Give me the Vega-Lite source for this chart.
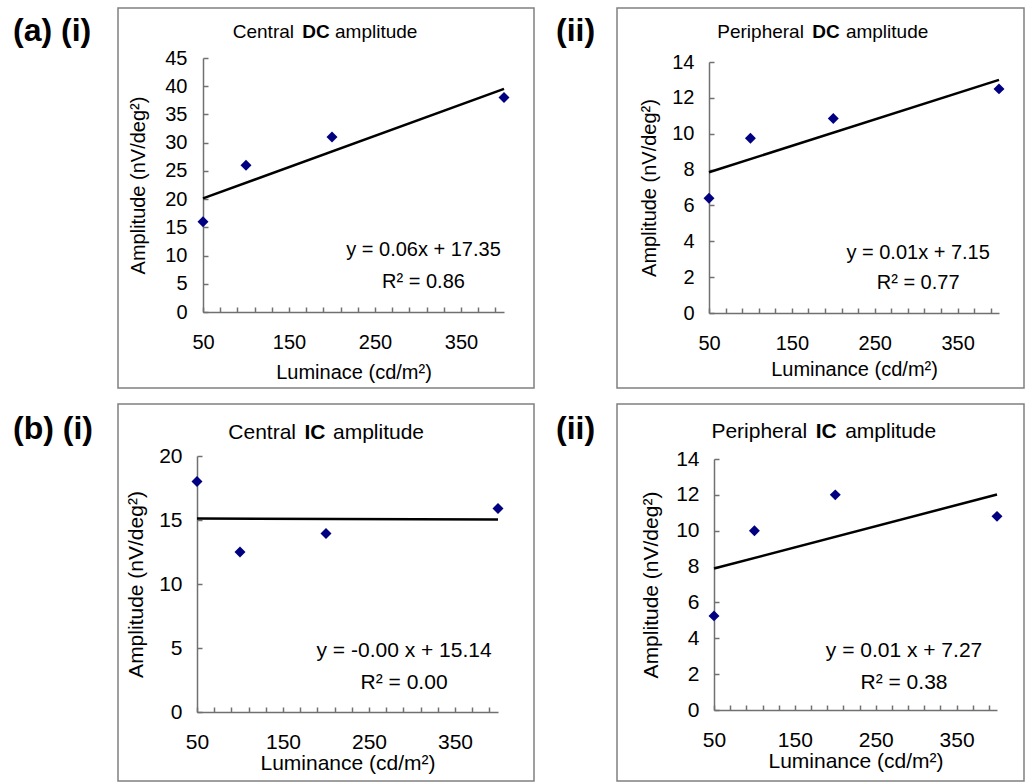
{
  "$schema": "https://vega.github.io/schema/vega-lite/v6.json",
  "padding": {"left": 12, "top": 7, "right": 0, "bottom": 0},
  "background": "white",
  "datasets": {
    "a1": [{"lum": 50, "amp": 16}, {"lum": 100, "amp": 26}, {"lum": 200, "amp": 31}, {"lum": 400, "amp": 38}],
    "a2": [{"lum": 50, "amp": 6.4}, {"lum": 100, "amp": 9.75}, {"lum": 200, "amp": 10.85}, {"lum": 400, "amp": 12.5}],
    "b1": [{"lum": 50, "amp": 18}, {"lum": 100, "amp": 12.5}, {"lum": 200, "amp": 13.95}, {"lum": 400, "amp": 15.9}],
    "b2": [{"lum": 50, "amp": 5.25}, {"lum": 100, "amp": 10}, {"lum": 200, "amp": 12}, {"lum": 400, "amp": 10.8}]
  },
  "columns": 2,
  "spacing": {"row": 16, "column": 83},
  "bounds": "flush",
  "concat": [
    {
      "width": 416, "height": 380,
      "title": {"text": "(a) (i)", "anchor": "start", "frame": "group", "dx": -105, "offset": -40, "fontSize": 32, "fontWeight": "bold", "color": "black"},
      "data": {"name": "a1"},
      "encoding": {
        "x": {"field": "lum", "type": "quantitative", "scale": {"domain": [50, 400], "range": [85, 386], "nice": false, "zero": false},
          "axis": {"values": [50,70,90,110,130,150,170,190,210,230,250,270,290,310,330,350,370,390], "labelExpr": "datum.value % 100 == 50 ? datum.label : ''", "title": "Luminace (cd/m²)", "offset": -76, "labelPadding": 25, "titlePadding": 10, "labelFontSize": 20, "titleFontSize": 20}},
        "y": {"field": "amp", "type": "quantitative", "scale": {"domain": [0, 45], "range": [304, 50], "nice": false},
          "axis": {"values": [0,5,10,15,20,25,30,35,40,45], "title": "Amplitude (nV/deg²)", "offset": -85, "labelPadding": 21, "titlePadding": 16, "labelFontSize": 20, "titleFontSize": 20}}
      },
      "layer": [
        {"transform": [{"regression": "amp", "on": "lum", "extent": [50, 400]}], "mark": {"type": "line", "color": "black", "strokeWidth": 2.5}},
        {"mark": {"type": "point", "shape": "diamond", "filled": true, "color": "#000080", "opacity": 1, "size": 120}},
        {"transform": [{"filter": "datum.lum == 400"}], "mark": {"type": "text", "align": "right", "baseline": "alphabetic", "dx": -22, "fontSize": 19, "color": "black"}, "encoding": {"x": {"datum": 181.4, "type": "quantitative"}, "y": {"datum": 48.5, "type": "quantitative"}, "text": {"value": "Central"}}},
        {"transform": [{"filter": "datum.lum == 400"}], "mark": {"type": "text", "align": "center", "baseline": "alphabetic", "fontWeight": "bold", "fontSize": 19, "color": "black"}, "encoding": {"x": {"datum": 181.4, "type": "quantitative"}, "y": {"datum": 48.5, "type": "quantitative"}, "text": {"value": "DC"}}},
        {"transform": [{"filter": "datum.lum == 400"}], "mark": {"type": "text", "align": "left", "baseline": "alphabetic", "dx": 19, "fontSize": 19, "color": "black"}, "encoding": {"x": {"datum": 181.4, "type": "quantitative"}, "y": {"datum": 48.5, "type": "quantitative"}, "text": {"value": "amplitude"}}},
        {"transform": [{"filter": "datum.lum == 400"}], "mark": {"type": "text", "align": "center", "baseline": "alphabetic", "lineHeight": 32, "fontSize": 20, "color": "black"}, "encoding": {"x": {"datum": 306.4, "type": "quantitative"}, "y": {"datum": 9.9, "type": "quantitative"}, "text": {"value": ["y = 0.06x + 17.35", "R² = 0.86"]}}}
      ]
    },
    {
      "width": 407, "height": 380,
      "title": {"text": "(ii)", "anchor": "start", "frame": "group", "dx": -61, "offset": -40, "fontSize": 32, "fontWeight": "bold", "color": "black"},
      "data": {"name": "a2"},
      "encoding": {
        "x": {"field": "lum", "type": "quantitative", "scale": {"domain": [50, 400], "range": [92, 382], "nice": false, "zero": false},
          "axis": {"values": [50,70,90,110,130,150,170,190,210,230,250,270,290,310,330,350,370,390], "labelExpr": "datum.value % 100 == 50 ? datum.label : ''", "title": "Luminance (cd/m²)", "offset": -75, "labelPadding": 25, "titlePadding": 6, "labelFontSize": 20, "titleFontSize": 20}},
        "y": {"field": "amp", "type": "quantitative", "scale": {"domain": [0, 14], "range": [305, 54], "nice": false},
          "axis": {"values": [0,2,4,6,8,10,12,14], "title": "Amplitude (nV/deg²)", "offset": -92, "labelPadding": 20, "titlePadding": 12, "labelFontSize": 20, "titleFontSize": 20}}
      },
      "layer": [
        {"transform": [{"regression": "amp", "on": "lum", "extent": [50, 400]}], "mark": {"type": "line", "color": "black", "strokeWidth": 2.5}},
        {"mark": {"type": "point", "shape": "diamond", "filled": true, "color": "#000080", "opacity": 1, "size": 120}},
        {"transform": [{"filter": "datum.lum == 400"}], "mark": {"type": "text", "align": "right", "baseline": "alphabetic", "dx": -22, "fontSize": 19, "color": "black"}, "encoding": {"x": {"datum": 191.1, "type": "quantitative"}, "y": {"datum": 15.35, "type": "quantitative"}, "text": {"value": "Peripheral"}}},
        {"transform": [{"filter": "datum.lum == 400"}], "mark": {"type": "text", "align": "center", "baseline": "alphabetic", "fontWeight": "bold", "fontSize": 19, "color": "black"}, "encoding": {"x": {"datum": 191.1, "type": "quantitative"}, "y": {"datum": 15.35, "type": "quantitative"}, "text": {"value": "DC"}}},
        {"transform": [{"filter": "datum.lum == 400"}], "mark": {"type": "text", "align": "left", "baseline": "alphabetic", "dx": 20, "fontSize": 19, "color": "black"}, "encoding": {"x": {"datum": 191.1, "type": "quantitative"}, "y": {"datum": 15.35, "type": "quantitative"}, "text": {"value": "amplitude"}}},
        {"transform": [{"filter": "datum.lum == 400"}], "mark": {"type": "text", "align": "center", "baseline": "alphabetic", "lineHeight": 30, "fontSize": 20, "color": "black"}, "encoding": {"x": {"datum": 302.4, "type": "quantitative"}, "y": {"datum": 3.0, "type": "quantitative"}, "text": {"value": ["y = 0.01x + 7.15", "R² = 0.77"]}}}
      ]
    },
    {
      "width": 416, "height": 377,
      "title": {"text": "(b) (i)", "anchor": "start", "frame": "group", "dx": -105, "offset": -42, "fontSize": 32, "fontWeight": "bold", "color": "black"},
      "data": {"name": "b1"},
      "encoding": {
        "x": {"field": "lum", "type": "quantitative", "scale": {"domain": [50, 400], "range": [79, 380], "nice": false, "zero": false},
          "axis": {"values": [50,70,90,110,130,150,170,190,210,230,250,270,290,310,330,350,370,390], "labelExpr": "datum.value % 100 == 50 ? datum.label : ''", "title": "Luminance (cd/m²)", "offset": -69, "labelPadding": 24, "titlePadding": 0, "labelFontSize": 21, "titleFontSize": 21}},
        "y": {"field": "amp", "type": "quantitative", "scale": {"domain": [0, 20], "range": [308, 52], "nice": false},
          "axis": {"values": [0,5,10,15,20], "title": "Amplitude (nV/deg²)", "offset": -79, "labelPadding": 20, "titlePadding": 12, "labelFontSize": 21, "titleFontSize": 21}}
      },
      "layer": [
        {"transform": [{"regression": "amp", "on": "lum", "extent": [50, 400]}], "mark": {"type": "line", "color": "black", "strokeWidth": 2.5}},
        {"mark": {"type": "point", "shape": "diamond", "filled": true, "color": "#000080", "opacity": 1, "size": 120}},
        {"transform": [{"filter": "datum.lum == 400"}], "mark": {"type": "text", "align": "right", "baseline": "alphabetic", "dx": -19, "fontSize": 21, "color": "black"}, "encoding": {"x": {"datum": 187.2, "type": "quantitative"}, "y": {"datum": 21.36, "type": "quantitative"}, "text": {"value": "Central"}}},
        {"transform": [{"filter": "datum.lum == 400"}], "mark": {"type": "text", "align": "center", "baseline": "alphabetic", "fontWeight": "bold", "fontSize": 21, "color": "black"}, "encoding": {"x": {"datum": 187.2, "type": "quantitative"}, "y": {"datum": 21.36, "type": "quantitative"}, "text": {"value": "IC"}}},
        {"transform": [{"filter": "datum.lum == 400"}], "mark": {"type": "text", "align": "left", "baseline": "alphabetic", "dx": 18, "fontSize": 21, "color": "black"}, "encoding": {"x": {"datum": 187.2, "type": "quantitative"}, "y": {"datum": 21.36, "type": "quantitative"}, "text": {"value": "amplitude"}}},
        {"transform": [{"filter": "datum.lum == 400"}], "mark": {"type": "text", "align": "center", "baseline": "alphabetic", "lineHeight": 32, "fontSize": 21, "color": "black"}, "encoding": {"x": {"datum": 290.8, "type": "quantitative"}, "y": {"datum": 4.3, "type": "quantitative"}, "text": {"value": ["y = -0.00 x + 15.14", "R² = 0.00"]}}}
      ]
    },
    {
      "width": 407, "height": 377,
      "title": {"text": "(ii)", "anchor": "start", "frame": "group", "dx": -61, "offset": -42, "fontSize": 32, "fontWeight": "bold", "color": "black"},
      "data": {"name": "b2"},
      "encoding": {
        "x": {"field": "lum", "type": "quantitative", "scale": {"domain": [50, 400], "range": [97, 380], "nice": false, "zero": false},
          "axis": {"values": [50,70,90,110,130,150,170,190,210,230,250,270,290,310,330,350,370,390], "labelExpr": "datum.value % 100 == 50 ? datum.label : ''", "title": "Luminance (cd/m²)", "offset": -71, "labelPadding": 24, "titlePadding": 0, "labelFontSize": 21, "titleFontSize": 21}},
        "y": {"field": "amp", "type": "quantitative", "scale": {"domain": [0, 14], "range": [306, 55], "nice": false},
          "axis": {"values": [0,2,4,6,8,10,12,14], "title": "Amplitude (nV/deg²)", "offset": -97, "labelPadding": 20, "titlePadding": 14, "labelFontSize": 21, "titleFontSize": 21}}
      },
      "layer": [
        {"transform": [{"regression": "amp", "on": "lum", "extent": [50, 400]}], "mark": {"type": "line", "color": "black", "strokeWidth": 2.5}},
        {"mark": {"type": "point", "shape": "diamond", "filled": true, "color": "#000080", "opacity": 1, "size": 120}},
        {"transform": [{"filter": "datum.lum == 400"}], "mark": {"type": "text", "align": "right", "baseline": "alphabetic", "dx": -19, "fontSize": 21, "color": "black"}, "encoding": {"x": {"datum": 188.7, "type": "quantitative"}, "y": {"datum": 15.15, "type": "quantitative"}, "text": {"value": "Peripheral"}}},
        {"transform": [{"filter": "datum.lum == 400"}], "mark": {"type": "text", "align": "center", "baseline": "alphabetic", "fontWeight": "bold", "fontSize": 21, "color": "black"}, "encoding": {"x": {"datum": 188.7, "type": "quantitative"}, "y": {"datum": 15.15, "type": "quantitative"}, "text": {"value": "IC"}}},
        {"transform": [{"filter": "datum.lum == 400"}], "mark": {"type": "text", "align": "left", "baseline": "alphabetic", "dx": 19, "fontSize": 21, "color": "black"}, "encoding": {"x": {"datum": 188.7, "type": "quantitative"}, "y": {"datum": 15.15, "type": "quantitative"}, "text": {"value": "amplitude"}}},
        {"transform": [{"filter": "datum.lum == 400"}], "mark": {"type": "text", "align": "center", "baseline": "alphabetic", "lineHeight": 32, "fontSize": 21, "color": "black"}, "encoding": {"x": {"datum": 285, "type": "quantitative"}, "y": {"datum": 2.97, "type": "quantitative"}, "text": {"value": ["y = 0.01 x + 7.27", "R² = 0.38"]}}}
      ]
    }
  ],
  "config": {
    "font": "Liberation Sans",
    "view": {"stroke": "#808080", "strokeWidth": 1.5},
    "title": {"font": "Liberation Sans"},
    "axis": {"grid": false, "domainColor": "#707070", "domainWidth": 1.5, "tickColor": "#707070", "tickWidth": 1.5, "tickSize": -5, "labelColor": "black", "titleColor": "black", "labelFont": "Liberation Sans", "titleFont": "Liberation Sans", "titleFontWeight": "normal", "labelFlush": false, "labelOverlap": false, "labelBound": false}
  }
}
